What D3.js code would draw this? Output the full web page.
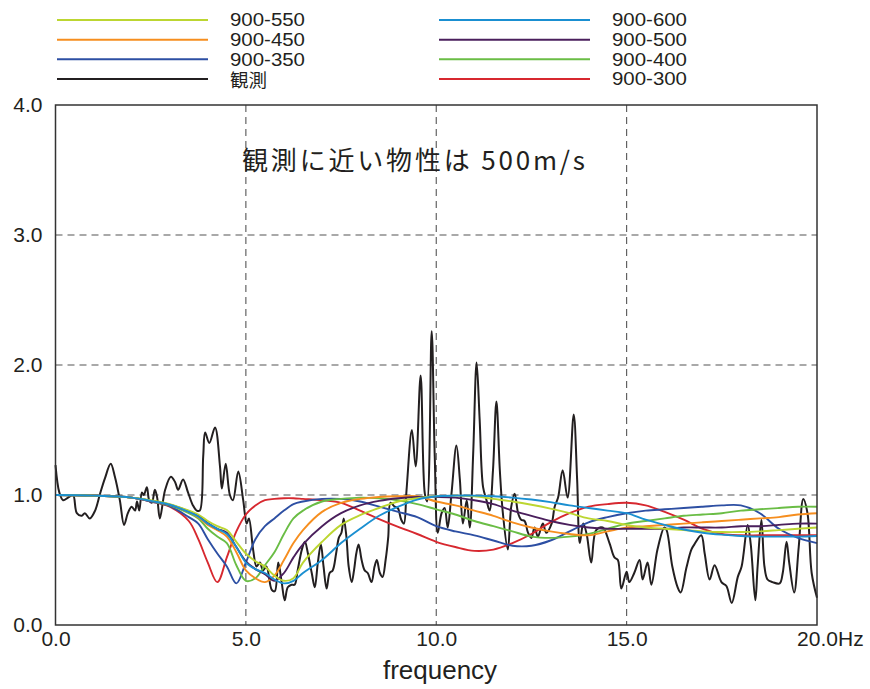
<!DOCTYPE html>
<html><head><meta charset="utf-8">
<script src="https://cdn.jsdelivr.net/npm/d3@7"></script>
<style>
html,body{margin:0;padding:0;background:#fff;}
svg{display:block;}
text{fill:#231f20;}
</style></head>
<body>
<svg id="chart" width="870" height="689"></svg>
<script>
// ---- data ----
const modelFreq = [0,1,2,2.5,3,3.5,3.75,4,4.25,4.5,4.75,5,5.25,5.5,5.75,6,6.25,6.5,7,7.5,8,8.5,9,9.5,10,10.5,11,11.5,12,12.5,13,13.5,14,14.5,15,15.5,16,16.5,17,17.5,18,18.5,19,19.5,20];
const s900_550 = [1,0.995,0.98,0.96,0.93,0.88,0.85,0.80,0.76,0.73,0.64,0.55,0.49,0.45,0.38,0.34,0.36,0.48,0.64,0.77,0.845,0.90,0.95,0.975,0.99,0.995,0.99,0.97,0.95,0.925,0.895,0.86,0.82,0.80,0.77,0.75,0.74,0.73,0.72,0.715,0.715,0.72,0.73,0.74,0.75];
const s900_450 = [1,0.995,0.98,0.955,0.925,0.87,0.83,0.77,0.73,0.68,0.56,0.42,0.36,0.33,0.38,0.50,0.63,0.73,0.87,0.94,0.97,0.985,0.99,0.99,0.95,0.92,0.88,0.84,0.79,0.75,0.72,0.70,0.69,0.72,0.75,0.76,0.77,0.78,0.79,0.80,0.81,0.82,0.83,0.85,0.86];
const s900_350 = [1,0.995,0.98,0.95,0.915,0.83,0.78,0.66,0.55,0.45,0.32,0.48,0.66,0.76,0.82,0.88,0.93,0.95,0.97,0.97,0.95,0.91,0.87,0.83,0.76,0.72,0.69,0.65,0.61,0.61,0.65,0.72,0.79,0.83,0.86,0.88,0.89,0.90,0.91,0.92,0.92,0.86,0.74,0.67,0.63];
const s900_600 = [1,0.995,0.98,0.955,0.925,0.87,0.835,0.78,0.74,0.70,0.60,0.48,0.43,0.40,0.35,0.32,0.34,0.40,0.50,0.63,0.74,0.84,0.91,0.965,0.99,0.995,0.995,0.99,0.98,0.965,0.945,0.92,0.90,0.88,0.86,0.81,0.77,0.735,0.71,0.695,0.685,0.68,0.68,0.68,0.685];
const s900_500 = [1,0.995,0.98,0.955,0.925,0.875,0.84,0.785,0.74,0.71,0.60,0.49,0.43,0.39,0.34,0.40,0.52,0.62,0.76,0.86,0.92,0.955,0.975,0.985,0.985,0.98,0.96,0.93,0.88,0.84,0.80,0.77,0.75,0.74,0.74,0.74,0.74,0.75,0.75,0.75,0.76,0.76,0.77,0.78,0.78];
const s900_400 = [1,0.995,0.98,0.955,0.92,0.86,0.82,0.74,0.68,0.63,0.46,0.34,0.36,0.46,0.56,0.70,0.82,0.88,0.95,0.97,0.98,0.975,0.96,0.93,0.89,0.85,0.80,0.76,0.72,0.68,0.67,0.68,0.70,0.74,0.78,0.80,0.82,0.84,0.85,0.86,0.88,0.89,0.90,0.91,0.91];
const s900_300 = [1,0.995,0.98,0.95,0.91,0.80,0.66,0.48,0.33,0.52,0.72,0.85,0.92,0.96,0.97,0.975,0.975,0.97,0.96,0.94,0.88,0.815,0.755,0.70,0.64,0.60,0.57,0.58,0.63,0.70,0.79,0.86,0.91,0.93,0.94,0.92,0.87,0.81,0.74,0.70,0.69,0.69,0.69,0.69,0.69];

const obsFreq = [0.00,0.10,0.20,0.33,0.46,0.56,0.69,0.77,0.90,1.04,1.17,1.30,1.45,1.56,1.69,1.80,1.90,2.00,2.09,2.14,2.20,2.27,2.32,2.40,2.46,2.53,2.61,2.67,2.74,2.88,3.03,3.14,3.22,3.35,3.48,3.61,3.71,3.79,3.88,3.93,4.04,4.19,4.32,4.37,4.47,4.58,4.66,4.80,4.93,5.02,5.08,5.19,5.28,5.37,5.45,5.54,5.68,5.76,5.85,5.94,6.02,6.10,6.20,6.28,6.36,6.47,6.55,6.63,6.73,6.81,6.89,6.97,7.04,7.12,7.20,7.28,7.37,7.44,7.51,7.57,7.64,7.70,7.78,7.84,7.90,7.96,8.04,8.12,8.20,8.30,8.38,8.44,8.52,8.59,8.67,8.74,8.80,8.91,8.99,9.08,9.15,9.22,9.36,9.46,9.59,9.70,9.76,9.88,9.96,10.04,10.14,10.22,10.30,10.40,10.53,10.62,10.70,10.80,10.88,10.97,11.06,11.14,11.23,11.32,11.40,11.49,11.58,11.67,11.75,11.88,11.97,12.06,12.15,12.23,12.32,12.41,12.50,12.58,12.67,12.80,12.89,13.03,13.11,13.20,13.32,13.45,13.61,13.70,13.77,13.86,13.95,14.07,14.20,14.37,14.55,14.68,14.77,14.86,15.00,15.07,15.20,15.34,15.42,15.55,15.65,15.81,15.99,16.05,16.20,16.34,16.42,16.57,16.70,16.78,16.96,17.05,17.18,17.31,17.49,17.62,17.76,17.92,18.02,18.18,18.26,18.38,18.44,18.54,18.62,18.70,18.83,19.02,19.10,19.20,19.27,19.40,19.52,19.64,19.75,19.86,20.00];
const obsValue = [1.23,1.02,0.96,0.98,1.00,0.86,0.84,0.86,0.82,0.88,1.01,1.13,1.24,1.14,0.96,0.77,0.86,0.91,0.88,0.95,0.88,1.02,1.00,1.06,0.96,0.94,1.04,0.98,0.82,1.04,1.14,1.10,1.04,1.12,1.02,0.92,0.88,0.88,1.30,1.48,1.40,1.52,1.22,1.05,1.24,1.00,0.96,1.18,0.96,0.78,0.82,0.58,0.45,0.48,0.42,0.45,0.27,0.26,0.48,0.33,0.19,0.29,0.31,0.31,0.42,0.58,0.64,0.55,0.40,0.29,0.48,0.62,0.45,0.28,0.40,0.42,0.55,0.67,0.71,0.82,0.68,0.45,0.33,0.42,0.55,0.62,0.50,0.42,0.40,0.33,0.45,0.50,0.40,0.37,0.50,0.68,0.94,0.91,0.90,0.81,0.78,1.04,1.50,1.22,1.92,1.01,0.95,2.26,1.30,0.71,0.86,0.90,0.75,1.01,1.38,1.12,0.78,0.96,0.75,1.32,2.02,1.58,1.06,0.96,0.88,1.19,1.72,1.19,0.86,0.58,0.91,1.01,0.86,0.81,0.80,0.71,0.67,0.75,0.68,0.78,0.71,0.78,0.91,0.98,1.19,0.98,1.62,1.12,0.63,0.78,0.70,0.48,0.73,0.75,0.63,0.52,0.50,0.28,0.41,0.33,0.40,0.50,0.35,0.48,0.31,0.58,0.75,0.73,0.45,0.29,0.25,0.44,0.58,0.62,0.69,0.55,0.35,0.46,0.33,0.30,0.17,0.37,0.45,0.77,0.62,0.19,0.45,0.81,0.45,0.35,0.33,0.32,0.40,0.64,0.48,0.25,0.60,0.97,0.86,0.40,0.21];

const xTicks = [0,5,10,15,20];
const yTicks = [0,1,2,3,4];
const xUnit = "Hz";
const xTitle = "frequency";
const note = "観測に近い物性は 500m/s";

const seriesNames = ["900-550","900-450","900-350","観測","900-600","900-500","900-400","900-300"];
const seriesColors = ["#bcd631","#f68e1f","#2d4fa3","#231f20","#1a8fd1","#4a1f5c","#6abd45","#d7282f"];

// ---- build ----
const svg = d3.select("#chart");
const W = 870, H = 689;
const m = {l:55.5, r:53, t:105, b:64};
const x = d3.scaleLinear().domain([0,20]).range([m.l, W-m.r]);
const y = d3.scaleLinear().domain([0,4]).range([H-m.b, m.t]);

svg.append("rect").attr("width",W).attr("height",H).attr("fill","#fff");

// grid
const grid = svg.append("g");
grid.selectAll("line.h").data(yTicks.filter(d=>d>0 && d<4)).join("line")
  .attr("x1",x(0)).attr("x2",x(20)).attr("y1",d=>y(d)).attr("y2",d=>y(d))
  .attr("stroke","#555").attr("stroke-width",1.1).attr("stroke-dasharray","7,5");
grid.selectAll("line.v").data(xTicks.filter(d=>d>0 && d<20)).join("line")
  .attr("x1",d=>x(d)).attr("x2",d=>x(d)).attr("y1",y(4)).attr("y2",y(0))
  .attr("stroke","#555").attr("stroke-width",1.1).attr("stroke-dasharray","7,5");

// series
const modelSeries = [
  {name:"900-550", vals:s900_550},
  {name:"900-450", vals:s900_450},
  {name:"900-350", vals:s900_350},
  {name:"900-600", vals:s900_600},
  {name:"900-500", vals:s900_500},
  {name:"900-400", vals:s900_400},
  {name:"900-300", vals:s900_300}
];
const color = d3.scaleOrdinal().domain(seriesNames).range(seriesColors);
const line = d3.line().x(d=>x(d[0])).y(d=>y(d[1])).curve(d3.curveCatmullRom.alpha(0.5));

const drawOrder = ["900-300","900-350","900-400","900-450","900-500","900-550","900-600"];

svg.append("path")
  .attr("d", line(obsFreq.map((f,i)=>[f,obsValue[i]])))
  .attr("fill","none").attr("stroke",color("観測")).attr("stroke-width",2).attr("stroke-linejoin","round");

drawOrder.forEach(n=>{
  const s = modelSeries.find(d=>d.name===n);
  svg.append("path")
    .attr("d", line(modelFreq.map((f,i)=>[f,s.vals[i]])))
    .attr("fill","none").attr("stroke",color(n)).attr("stroke-width",1.9);
});

// frame
svg.append("rect").attr("x",x(0)).attr("y",y(4)).attr("width",x(20)-x(0)).attr("height",y(0)-y(4))
  .attr("fill","none").attr("stroke","#333").attr("stroke-width",1.5);

// axes
const fmt = d3.format(".1f");
const xAxis = svg.append("g").attr("transform",`translate(0,${y(0)})`)
  .call(d3.axisBottom(x).tickValues(xTicks).tickFormat(fmt).tickSize(0).tickPadding(6));
xAxis.select(".domain").remove();
xAxis.selectAll("text").attr("font-family","'Liberation Sans', Arial, sans-serif").attr("font-size",21).attr("fill","#231f20");
svg.append("text").attr("x",x(20)+21).attr("y",y(0)+6).attr("dy","0.71em")
  .attr("font-family","'Liberation Sans', Arial, sans-serif").attr("font-size",21).text(xUnit);

const yAxis = svg.append("g").attr("transform",`translate(${x(0)},0)`)
  .call(d3.axisLeft(y).tickValues(yTicks).tickFormat(fmt).tickSize(0).tickPadding(13));
yAxis.select(".domain").remove();
yAxis.selectAll("text").attr("font-family","'Liberation Sans', Arial, sans-serif").attr("font-size",21).attr("fill","#231f20");

svg.append("text").attr("x",440).attr("y",679).attr("text-anchor","middle")
  .attr("font-family","'Liberation Sans', Arial, sans-serif").attr("font-size",26).text(xTitle);

// note
svg.append("text").attr("x",242).attr("y",170)
  .attr("font-family","'Noto Sans CJK JP', sans-serif").attr("font-size",26)
  .attr("textLength",343).attr("lengthAdjust","spacing").text(note);

// legend
const legendCols = [57, 439];
const legendRows = [20, 39.7, 59.3, 79];
const leg = svg.append("g");
seriesNames.forEach((n,i)=>{
  const cx = legendCols[Math.floor(i/4)], cy = legendRows[i%4];
  leg.append("line").attr("x1",cx).attr("x2",cx+151).attr("y1",cy).attr("y2",cy)
    .attr("stroke",color(n)).attr("stroke-width",2);
  const t = leg.append("text").attr("x",cx+173).attr("y",cy).attr("dy","0.36em")
    .attr("font-family","'Liberation Sans', 'Noto Sans CJK JP', Arial, sans-serif").attr("font-size",17.5).text(n);
  if (n !== "観測") t.attr("textLength",75).attr("lengthAdjust","spacingAndGlyphs");
  else t.attr("font-size",18.5).attr("y",cy+1);
});
</script>
</body></html>
